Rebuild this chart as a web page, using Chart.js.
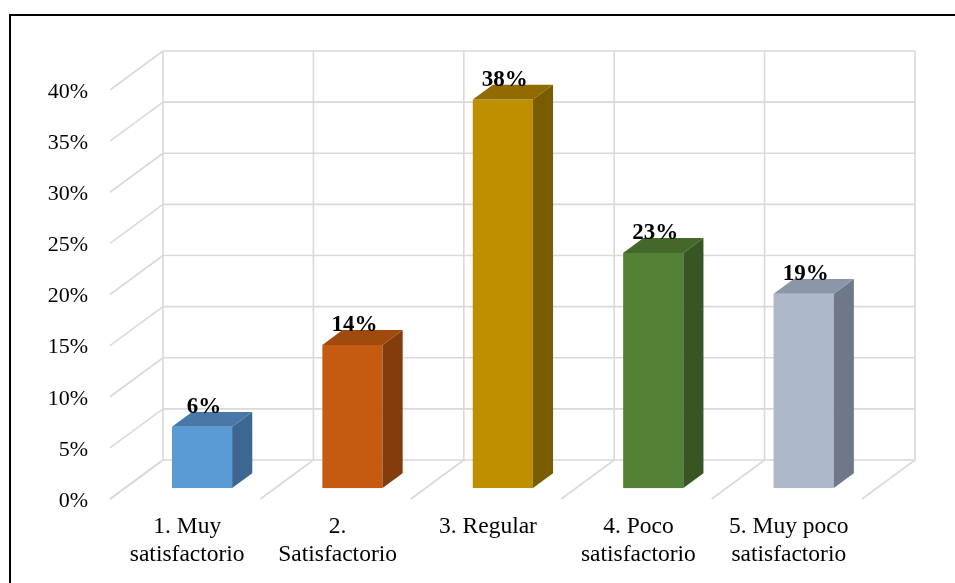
<!DOCTYPE html>
<html>
<head>
<meta charset="utf-8">
<script src="https://cdn.jsdelivr.net/npm/chart.js@4.4.1/dist/chart.umd.min.js"></script>
<style>
  html, body { margin: 0; padding: 0; background: #fff; }
  #wrap { width: 955px; height: 583px; position: relative; }
</style>
</head>
<body>
<div id="wrap"><canvas id="c"></canvas></div>
<script>
// ---- data ----
const categories = [
  ["1. Muy", "satisfactorio"],
  ["2.", "Satisfactorio"],
  ["3. Regular"],
  ["4. Poco", "satisfactorio"],
  ["5. Muy poco", "satisfactorio"]
];
const values = [6, 14, 38, 23, 19];
const valueLabels = ["6%", "14%", "38%", "23%", "19%"];
const yTicks = [0, 5, 10, 15, 20, 25, 30, 35, 40];

// ---- styles ----
const frontColors = ["#5B9BD5", "#C55A11", "#BF8F00", "#538135", "#ADB9CA"];
const topColors   = ["#4878A8", "#A04A0E", "#8F6B00", "#43682A", "#8B97A8"];
const sideColors  = ["#3B6790", "#843C0C", "#7A5C00", "#375623", "#6E7888"];

const SERIF = "'Liberation Serif', 'Times New Roman', serif";
const DX = 53, DY = -39;      // depth of the 3D box
const F1 = 0.28, F2 = 0.66;   // bar front/back depth fractions
const BAR_SHIFT = 2;

const depth3d = {
  id: 'depth3d',
  beforeDatasetsDraw(chart) {
    const { ctx, chartArea: a, scales: { x, y } } = chart;
    const line = (x1, y1, x2, y2) => { ctx.beginPath(); ctx.moveTo(x1, y1); ctx.lineTo(x2, y2); ctx.stroke(); };
    ctx.save();
    ctx.strokeStyle = '#D9D9D9';
    ctx.lineWidth = 1.6;
    const y0 = y.getPixelForValue(0);
    const yTop = y.getPixelForValue(yTicks[yTicks.length - 1]);
    yTicks.forEach(v => {
      const py = y.getPixelForValue(v);
      line(a.left, py, a.left + DX, py + DY);
      line(a.left + DX, py + DY, a.right + DX, py + DY);
    });
    for (let i = 0; i <= categories.length; i++) {
      const bx = x.getPixelForValue(i - 0.5);
      line(bx, y0, bx + DX, y0 + DY);
      line(bx + DX, y0 + DY, bx + DX, yTop + DY);
    }
    const meta = chart.getDatasetMeta(0);
    const sx = (F2 - F1) * DX, sy = (F2 - F1) * DY;
    meta.data.forEach((el, i) => {
      const p = el.getProps(['x', 'y', 'base', 'width'], true);
      const w = p.width;
      const x0 = p.x - w / 2 + F1 * DX + BAR_SHIFT, x1 = x0 + w;
      const yt = p.y + F1 * DY, yb = p.base + F1 * DY;
      ctx.fillStyle = frontColors[i];
      ctx.fillRect(x0, yt, w, yb - yt);
      ctx.fillStyle = sideColors[i];
      ctx.beginPath();
      ctx.moveTo(x1, yt); ctx.lineTo(x1 + sx, yt + sy); ctx.lineTo(x1 + sx, yb + sy); ctx.lineTo(x1, yb);
      ctx.closePath(); ctx.fill();
      ctx.fillStyle = topColors[i];
      ctx.beginPath();
      ctx.moveTo(x0, yt); ctx.lineTo(x0 + sx, yt + sy); ctx.lineTo(x1 + sx, yt + sy); ctx.lineTo(x1, yt);
      ctx.closePath(); ctx.fill();
      ctx.fillStyle = '#000';
      ctx.font = 'bold 23px ' + SERIF;
      ctx.textAlign = 'center';
      ctx.textBaseline = 'alphabetic';
      ctx.fillText(valueLabels[i], x0 + w / 2 + 2, yt + sy + 1);
    });
    ctx.restore();
    return false;
  },
  afterDraw(chart) {
    const ctx = chart.ctx;
    ctx.save();
    ctx.strokeStyle = '#000';
    ctx.lineWidth = 2;
    ctx.strokeRect(10, 15, 1000, 700);
    ctx.restore();
  }
};

new Chart(document.getElementById('c'), {
  type: 'bar',
  data: {
    labels: categories,
    datasets: [{
      data: values,
      backgroundColor: frontColors,
      barPercentage: 0.4,
      categoryPercentage: 1.0
    }]
  },
  options: {
    responsive: true,
    maintainAspectRatio: false,
    animation: false,
    layout: { padding: { left: 0, right: 93, top: 90, bottom: 0 } },
    plugins: { legend: { display: false }, tooltip: { enabled: false } },
    scales: {
      x: {
        grid: { display: false, drawTicks: false },
        border: { display: false },
        ticks: {
          color: '#000',
          font: { family: SERIF, size: 23.5, lineHeight: 1.2 },
          padding: 14,
          labelOffset: 2,
          maxRotation: 0,
          autoSkip: false
        },
        afterFit: s => { s.height = 84; }
      },
      y: {
        min: 0,
        max: 40,
        grid: { display: false, drawTicks: false },
        border: { display: false },
        afterBuildTicks: s => { s.ticks = yTicks.map(v => ({ value: v })); },
        ticks: {
          color: '#000',
          font: { family: SERIF, size: 22 },
          padding: 22,
          labelOffset: 2,
          callback: v => v + '%'
        },
        afterFit: s => { s.width = 110; }
      }
    }
  },
  plugins: [depth3d]
});
</script>
</body>
</html>
